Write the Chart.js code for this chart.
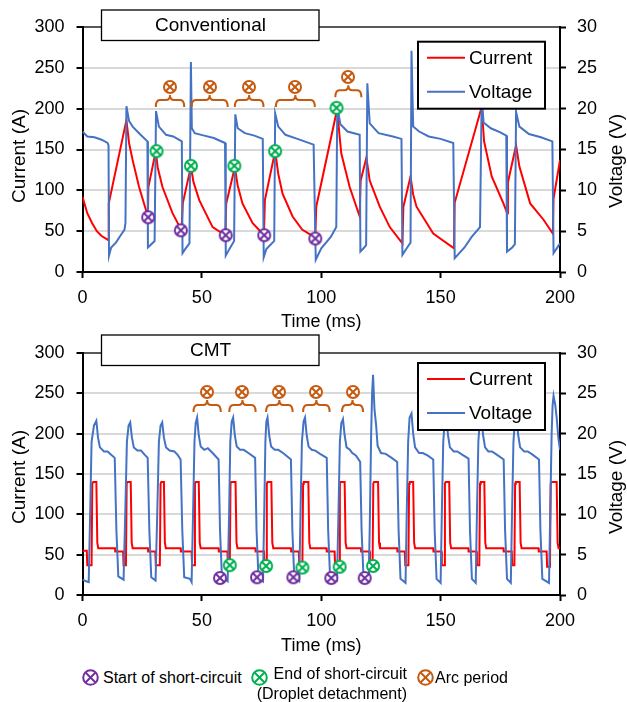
<!DOCTYPE html>
<html lang="en">
<head>
<meta charset="UTF-8">
<title>Current and voltage waveforms: Conventional vs CMT</title>
<script src="https://cdn.jsdelivr.net/npm/chart.js"></script>
<style>
  body { margin: 0; background: white; font-family: "Liberation Sans", Arial, sans-serif; }
  #page { position: relative; width: 627px; height: 702px; overflow: hidden; }
  .box { position: absolute; left: 0; width: 627px; }
  #topBox { top: 0; height: 340px; }
  #botBox { top: 330px; height: 335px; }
  .key { position: absolute; font-size: 16px; line-height: 18px; color: #000; white-space: nowrap; }
  .mark { position: absolute; }
</style>
</head>
<body>
<div id="page">
  <div class="box" id="topBox"><canvas id="topChart"></canvas></div>
  <div class="box" id="botBox"><canvas id="botChart"></canvas></div>
  <div class="key" style="left:103px; top:669px;">Start of short-circuit</div>
  <div class="key" style="right:220px; top:664px; line-height:20px; text-align:right;">End of short-circuit<br>(Droplet detachment)</div>
  <div class="key" style="left:435px; top:669px;">Arc period</div>
</div>

<script>
const FONT = '"Liberation Sans", Arial, sans-serif';
const RED = '#ff0000', BLUE = '#4472c4';
const PURPLE = '#7030a0', GREEN = '#00b050', ORANGE = '#c55a11';

// ---- Conventional ----
const convCurrentTime = [0, 2, 4, 6, 8, 10.9, 11.0, 18.4, 19.5, 21, 23.7, 27.4, 27.6, 30.7, 31.5, 33.5, 37.7, 41.5,
  42.0, 45.4, 46.5, 48.9, 54.5, 59.8, 60.2, 63.8, 65, 67, 71.2, 76.0, 76.4, 80.7, 82, 83.8, 88, 92, 97.5,
  97.9, 106.7, 107.5, 108.4, 111.9, 116.1, 116.5, 118.9, 120.3, 124.5, 128.7, 134.0, 134.4, 137.4, 138.5, 139.9, 146.9, 155.6,
  155.9, 167.2, 168.2, 171.4, 176.3, 177.9, 178.2, 181.6, 183, 187.5, 193.1, 197.0, 197.3, 200];
const convCurrentAmp = [92, 72, 60, 50, 44, 39, 84, 186, 158, 137, 104, 68, 104, 148, 128, 104, 72, 51,
  84, 129, 110, 88, 55, 45, 84, 128, 106, 84, 60, 45, 88, 148, 120, 96, 68, 52, 42,
  80, 200, 172, 145, 104, 68, 112, 140, 112, 80, 55, 35, 80, 117, 95, 80, 47, 29,
  85, 202, 160, 117, 84, 72, 110, 155, 129, 84, 64, 47, 90, 137];

const convVoltageTime = [
  0, 2, 5, 8, 10.5, 10.9, 11.1, 12, 14, 16, 17.6, 18.0,
  18.4, 19.5, 21, 24, 27.2, 27.4, 28.5, 30.2,
  30.8, 32, 35, 38, 41.6, 41.9, 43, 44.8,
  45.4, 45.8, 47, 51, 55, 59.7, 60.0, 61.5, 63.5,
  64.0, 65, 68, 72, 75.5, 75.9, 77, 80.3,
  80.7, 82, 85, 90, 96.8, 97.7, 100, 104, 106.3,
  106.7, 108, 111, 116.1, 116.4, 118, 118.8,
  119.3, 120.3, 124, 130, 133.6, 134.0, 136, 137.4,
  137.8, 138.5, 141, 145, 150, 155.3, 155.9, 160, 163, 166.5,
  167.2, 168, 171, 175, 177.5, 177.8, 180, 181.1,
  181.6, 183, 187, 192, 196.8, 197.3, 200];
const convVoltageVolt = [
  17.2, 16.6, 16.5, 16.2, 15.8, 15.5, 2.0, 3.0, 3.6, 4.5, 5.2, 6.0,
  20.3, 18.5, 17.8, 16.9, 16.0, 3.0, 3.3, 3.8,
  19.7, 17.8, 16.8, 16.6, 16.0, 2.3, 2.8, 3.5,
  25.7, 17.6, 17.0, 16.7, 16.4, 15.8, 2.0, 2.8, 3.8,
  19.3, 17.6, 17.0, 16.7, 16.3, 1.8, 2.8, 3.8,
  19.4, 17.8, 16.8, 16.3, 15.6, 1.5, 2.9, 4.3, 5.5,
  20.3, 18.1, 17.2, 16.8, 2.5, 3.0, 3.3,
  23.1, 18.2, 17.0, 16.6, 16.3, 2.1, 3.0, 3.6,
  27.1, 17.8, 17.2, 16.6, 16.3, 15.8, 1.7, 3.0, 4.3, 5.5,
  21.5, 18.3, 17.6, 17.1, 16.7, 2.5, 3.0, 3.4,
  19.6, 17.8, 16.9, 16.5, 16.0, 2.3, 3.5];

const convStartTime = [27.5, 41.2, 60.0, 76.1, 97.5];
const convStartAmp = [67, 51, 45, 45, 41];
const convEndTime = [31.0, 45.4, 63.6, 80.7, 106.4];
const convEndAmp = [148, 130, 130, 148, 201];
const convArcFrom = [30.7, 45.7, 63.8, 81.0, 105.9];
const convArcTo = [42.6, 60.8, 75.8, 97.3, 116.8];
const convArcLevel = [202, 202, 202, 202, 214];

// ---- CMT ----
const cmtCurrentTime = [
  0, 1.8, 2.0, 3.8, 4.1, 4.5, 5.8, 6.2, 6.6,
  13.6, 13.7, 17.0, 17.2, 18.2, 18.5, 18.8, 20.2, 20.6, 21.0,
  27.4, 27.5, 30.5, 30.7, 32.4, 32.7, 33.0, 34.1, 34.5, 34.9,
  41.1, 41.2, 45.7, 45.9, 46.8, 47.1, 47.4, 48.7, 49.1, 49.5,
  57.0, 57.1, 60.7, 60.9, 61.7, 62.0, 62.3, 64.1, 64.5, 64.9,
  72.4, 72.5, 76.0, 76.2, 76.9, 77.2, 77.5, 79.1, 79.5, 79.9,
  87.3, 87.4, 90.6, 90.8, 92.1, 92.4, 92.7, 94.6, 95.0, 95.4,
  102.2, 102.3, 105.6, 105.8, 107.5, 107.8, 108.1, 109.8, 110.2, 110.6,
  116.6, 116.7, 120.2, 120.4, 121.5, 121.8, 122.1, 123.8, 124.2, 124.6,
  131.8, 131.9, 135.0, 135.2, 136.5, 136.8, 137.1, 138.5, 138.9, 139.3,
  146.9, 147.0, 150.3, 150.5, 151.5, 151.8, 152.1, 153.6, 154.0, 154.4,
  161.6, 161.7, 165.0, 165.2, 166.2, 166.5, 166.8, 168.3, 168.7, 169.1,
  176.3, 176.4, 179.8, 180.0, 180.9, 181.2, 181.5, 183.1, 183.5, 183.9,
  191.0, 191.1, 194.4, 194.6, 195.8, 196.1, 196.4, 198.6, 199.0, 199.4,
  200];
const cmtCurrentAmp = [
  55, 55, 37, 37, 138, 140, 140, 65, 58,
  58, 54, 54, 37, 37, 138, 140, 140, 65, 58,
  58, 54, 54, 37, 37, 138, 140, 140, 65, 58,
  58, 54, 54, 37, 37, 138, 140, 140, 65, 58,
  58, 54, 54, 37, 37, 138, 140, 140, 65, 58,
  58, 54, 54, 37, 37, 138, 140, 140, 65, 58,
  58, 54, 54, 37, 37, 138, 140, 140, 65, 58,
  58, 54, 54, 37, 37, 138, 140, 140, 65, 58,
  58, 54, 54, 37, 37, 138, 140, 140, 65, 58,
  58, 54, 54, 37, 37, 138, 140, 140, 65, 58,
  58, 54, 54, 37, 37, 138, 140, 140, 65, 58,
  58, 54, 54, 37, 37, 138, 140, 140, 65, 58,
  58, 54, 54, 37, 37, 138, 140, 140, 65, 58,
  58, 54, 54, 35, 35, 138, 140, 140, 65, 58,
  58];

const cmtVoltageTime = [
  0, 1.5, 2.6, 3.2, 3.8, 4.8,
  5.8, 6.5, 7.3, 9, 10.5, 12, 13.5, 14.2, 15, 17.2, 17.9, 18.6, 19.3,
  20.0, 20.7, 21.5, 23, 24.5, 26, 27.3, 28, 28.8, 30.6, 31.3, 32, 32.7,
  33.4, 34.1, 35, 36.5, 38.5, 40, 41.1, 41.8, 42.6, 45, 45.7, 46.3, 46.9, 47.4,
  48, 48.7, 49.5, 51, 52.5, 54.5, 57.0, 57.6, 58.4, 60.8, 61.4, 61.9, 62.5,
  63.1, 63.8, 64.6, 66, 67.5, 69.5, 72.3, 72.9, 73.7, 75.6, 76.1, 76.6, 77.0,
  77.5, 78.2, 79, 80.5, 82, 84, 87.3, 87.9, 88.7, 90.8, 91.3, 91.9, 92.6,
  93.2, 93.9, 94.7, 96, 97.5, 99.5, 102.3, 102.9, 103.7, 106.6, 107.2, 107.8, 108.4,
  109.1, 109.8, 110.6, 112, 113, 114.5, 116.3, 116.9, 117.7, 119.9, 120.4, 120.9, 121.3,
  121.7, 122.3, 123, 123.6, 125, 127, 129.5, 131.8, 132.4, 133.2, 135.3, 135.8, 136.4, 137,
  137.8, 138.5, 139.3, 141, 142.5, 144.5, 146.9, 147.5, 148.3, 150, 150.5, 151.1, 151.7,
  152.4, 153.1, 153.9, 155.5, 157, 159, 161.7, 162.3, 163.1, 164.7, 165.2, 165.8, 166.4,
  167.1, 167.8, 168.6, 170, 171.5, 173.5, 176.4, 177, 177.8, 179.4, 179.9, 180.5, 181.1,
  181.8, 182.5, 183.3, 185, 186.5, 188.5, 191.2, 191.8, 192.6, 195.4, 195.9, 196.5, 196.9,
  197.3, 198, 198.6, 199.3, 200];
const cmtVoltageVolt = [
  1.9, 1.7, 1.6, 10, 19, 21.0,
  21.6, 19.5, 18.3, 17.8, 17.8, 17.4, 17.0, 8, 2.3, 1.9, 10, 19, 21.0,
  21.4, 19.5, 18.3, 17.9, 17.9, 17.4, 17.0, 8, 2.2, 1.8, 10, 19, 21.0,
  21.4, 19.5, 18.3, 17.9, 17.8, 17.3, 16.8, 8, 2.2, 2.0, 1.6, 10, 19, 21.3,
  22, 19.8, 18.4, 18.0, 18.2, 17.6, 16.8, 8, 2.2, 1.7, 10, 19, 21.5,
  22, 19.8, 18.4, 18.0, 18.0, 17.6, 17.0, 8, 2.2, 1.7, 10, 19, 21.5,
  22, 19.8, 18.4, 18.0, 18.0, 17.6, 16.8, 8, 2.2, 1.7, 10, 19, 21.5,
  22, 19.8, 18.4, 18.0, 17.9, 17.5, 17.0, 8, 2.2, 1.8, 10, 19, 21.3,
  21.8, 19.8, 18.3, 18.0, 17.6, 17.3, 16.5, 8, 2.2, 1.7, 10, 20, 25,
  27.3, 23, 21, 18.5, 17.6, 17.5, 17.0, 16.5, 8, 2.0, 1.5, 10, 19, 22,
  22.5, 20, 18.3, 17.6, 17.6, 17.3, 16.8, 8, 2.0, 1.5, 10, 19, 21.5,
  22, 19.8, 18.3, 17.8, 17.8, 17.4, 16.9, 8, 2.0, 1.5, 10, 19, 21.5,
  22, 19.8, 18.3, 17.8, 17.8, 17.4, 16.8, 8, 2.0, 1.5, 10, 19, 21.5,
  22, 19.8, 18.3, 17.8, 17.8, 17.4, 16.8, 8, 2.0, 1.5, 10, 20, 23.5,
  24.7, 23.6, 22, 19.5, 18];

const cmtStartTime = [57.6, 73.1, 88.3, 104.2, 118.2];
const cmtStartAmp = [21, 22, 22, 21, 21];
const cmtEndTime = [61.7, 76.9, 92.1, 107.7, 121.7];
const cmtEndAmp = [37, 36, 34, 35, 36];
const cmtArcFrom = [46.5, 61.5, 76.9, 92.4, 108.7];
const cmtArcTo = [57.9, 72.5, 88.0, 103.5, 117.5];
const cmtArcLevel = [227, 227, 227, 227, 227];

Chart.defaults.font.family = FONT;
Chart.defaults.color = '#000';

function pairs(xs, ys) {
  return xs.map((x, i) => ({ x: x, y: ys[i] }));
}

// circle with a cross, used for markers and key symbols
function makeMarker(color, r) {
  const c = document.createElement('canvas');
  const s = Math.ceil(r * 2 + 4);
  c.width = c.height = s;
  const g = c.getContext('2d');
  const m = s / 2;
  g.lineWidth = 2;
  g.strokeStyle = color;
  g.fillStyle = '#fff';
  g.beginPath();
  g.arc(m, m, r, 0, Math.PI * 2);
  g.fill();
  g.stroke();
  const d = r * 0.68;
  g.beginPath();
  g.moveTo(m - d, m - d); g.lineTo(m + d, m + d);
  g.moveTo(m + d, m - d); g.lineTo(m - d, m + d);
  g.stroke();
  return c;
}

const startMark = makeMarker(PURPLE, 6);
const endMark = makeMarker(GREEN, 6);
const arcMark = makeMarker(ORANGE, 6);

function makeChart(cfg) {
  const overlay = {
    id: 'overlay',
    afterDatasetsDraw(chart) {
      const ctx = chart.ctx, xs = chart.scales.x, ys = chart.scales.y;
      ctx.save();
      ctx.strokeStyle = ORANGE;
      ctx.lineWidth = 2;
      cfg.arcFrom.forEach((t0, i) => {
        const x1 = xs.getPixelForValue(t0), x2 = xs.getPixelForValue(cfg.arcTo[i]);
        const yb = ys.getPixelForValue(cfg.arcLevel[i]);
        const xm = (x1 + x2) / 2, yh = yb - 7, r = 4;
        ctx.beginPath();
        ctx.moveTo(x1, yb);
        ctx.quadraticCurveTo(x1, yh, x1 + r, yh);
        ctx.lineTo(xm - r, yh);
        ctx.quadraticCurveTo(xm, yh, xm, yh - 5);
        ctx.quadraticCurveTo(xm, yh, xm + r, yh);
        ctx.lineTo(x2 - r, yh);
        ctx.quadraticCurveTo(x2, yh, x2, yb);
        ctx.stroke();
        ctx.drawImage(arcMark, Math.round(xm - arcMark.width / 2), Math.round(yb - 20 - arcMark.height / 2));
      });
      ctx.restore();
    },
    afterDraw(chart) {
      const ctx = chart.ctx, a = chart.chartArea;
      ctx.save();
      // legend box
      const lx = a.right - 142, ly = a.top + cfg.legendDy;
      ctx.fillStyle = '#fff';
      ctx.fillRect(lx, ly, 127, 67);
      ctx.strokeStyle = '#000';
      ctx.lineWidth = 2;
      ctx.strokeRect(lx, ly, 127, 67);
      ctx.font = '19px ' + FONT;
      ctx.textBaseline = 'middle';
      ctx.textAlign = 'left';
      [['Current', RED, 16], ['Voltage', BLUE, 50]].forEach(([label, color, dy]) => {
        ctx.strokeStyle = color;
        ctx.beginPath();
        ctx.moveTo(lx + 9, ly + dy);
        ctx.lineTo(lx + 47, ly + dy);
        ctx.stroke();
        ctx.fillStyle = '#000';
        ctx.fillText(label, lx + 51, ly + dy + 1);
      });
      // title box
      ctx.fillStyle = '#fff';
      ctx.fillRect(101.5, cfg.titleY, 217.5, 30.5);
      ctx.strokeStyle = '#000';
      ctx.lineWidth = 1.3;
      ctx.strokeRect(101.5, cfg.titleY, 217.5, 30.5);
      ctx.fillStyle = '#000';
      ctx.textAlign = 'center';
      ctx.fillText(cfg.title, 210.5, cfg.titleY + 16);
      // y axis titles, both read bottom to top
      ctx.font = '19px ' + FONT;
      [['Current (A)', 20, cfg.leftTitleY], ['Voltage (V)', 617, cfg.rightTitleY]].forEach(([txt, x, y]) => {
        ctx.save();
        ctx.translate(x, y);
        ctx.rotate(-Math.PI / 2);
        ctx.fillText(txt, 0, 0);
        ctx.restore();
      });
      ctx.restore();
    }
  };

  return new Chart(document.getElementById(cfg.el), {
    type: 'scatter',
    data: {
      datasets: [
        { label: 'Start of short-circuit', data: pairs(cfg.startT, cfg.startA), pointStyle: startMark, pointRadius: 7, yAxisID: 'y', order: 0 },
        { label: 'End of short-circuit', data: pairs(cfg.endT, cfg.endA), pointStyle: endMark, pointRadius: 7, yAxisID: 'y', order: 0 },
        { label: 'Voltage', data: pairs(cfg.voltT, cfg.voltV), yAxisID: 'y1', showLine: true, borderColor: BLUE, borderWidth: 2, pointRadius: 0, tension: 0, order: 1 },
        { label: 'Current', data: pairs(cfg.curT, cfg.curA), yAxisID: 'y', showLine: true, borderColor: RED, borderWidth: 2, pointRadius: 0, tension: 0, order: 2 }
      ]
    },
    options: {
      responsive: true,
      maintainAspectRatio: false,
      animation: false,
      events: [],
      layout: { padding: { top: cfg.plotTop, left: 0, right: 0, bottom: 0 } },
      plugins: { legend: { display: false }, tooltip: { enabled: false } },
      scales: {
        x: {
          type: 'linear', min: 0, max: 200,
          ticks: { stepSize: 50, font: { size: 18 }, padding: 9, color: '#000', maxRotation: 0 },
          grid: { drawOnChartArea: false, tickLength: 6, tickColor: '#000', tickWidth: 2 },
          border: { color: '#000', width: 2 },
          title: { display: true, text: 'Time (ms)', font: { size: 18 }, color: '#000', padding: { top: 0, bottom: cfg.xTitlePad } },
          afterFit: s => { s.height = cfg.height - cfg.plotBottom; }
        },
        y: {
          position: 'left', min: 0, max: 300,
          ticks: { stepSize: 50, font: { size: 18 }, padding: 12, color: '#000' },
          grid: {
            color: c => (c.tick && c.tick.value === 300 ? '#595959' : '#d9d9d9'),
            lineWidth: 2, tickLength: 6, tickColor: '#000', tickWidth: 2
          },
          border: { color: '#000', width: 2 },
          afterFit: s => { s.width = 82.5; }
        },
        y1: {
          position: 'right', min: 0, max: 30,
          ticks: { stepSize: 5, font: { size: 18 }, padding: 11, color: '#000' },
          grid: { drawOnChartArea: false, tickLength: 6, tickColor: '#000', tickWidth: 2 },
          border: { color: '#000', width: 2 },
          afterFit: s => { s.width = 67; }
        }
      }
    },
    plugins: [overlay]
  });
}

makeChart({
  el: 'topChart', height: 340, plotTop: 27, plotBottom: 272, xTitlePad: 7,
  title: 'Conventional', titleY: 10, legendDy: 14.7, leftTitleY: 156, rightTitleY: 161,
  curT: convCurrentTime, curA: convCurrentAmp, voltT: convVoltageTime, voltV: convVoltageVolt,
  startT: convStartTime, startA: convStartAmp, endT: convEndTime, endA: convEndAmp,
  arcFrom: convArcFrom, arcTo: convArcTo, arcLevel: convArcLevel
});

makeChart({
  el: 'botChart', height: 335, plotTop: 23, plotBottom: 265, xTitlePad: 8,
  title: 'CMT', titleY: 5, legendDy: 10, leftTitleY: 147, rightTitleY: 157,
  curT: cmtCurrentTime, curA: cmtCurrentAmp, voltT: cmtVoltageTime, voltV: cmtVoltageVolt,
  startT: cmtStartTime, startA: cmtStartAmp, endT: cmtEndTime, endA: cmtEndAmp,
  arcFrom: cmtArcFrom, arcTo: cmtArcTo, arcLevel: cmtArcLevel
});

// key symbols below the charts
const page = document.getElementById('page');
[[PURPLE, 90.7], [GREEN, 259], [ORANGE, 425.7]].forEach(([color, cx]) => {
  const c = makeMarker(color, 7.3);
  c.className = 'mark';
  c.style.left = (cx - c.width / 2) + 'px';
  c.style.top = (677.3 - c.height / 2) + 'px';
  page.appendChild(c);
});
</script>
</body>
</html>
